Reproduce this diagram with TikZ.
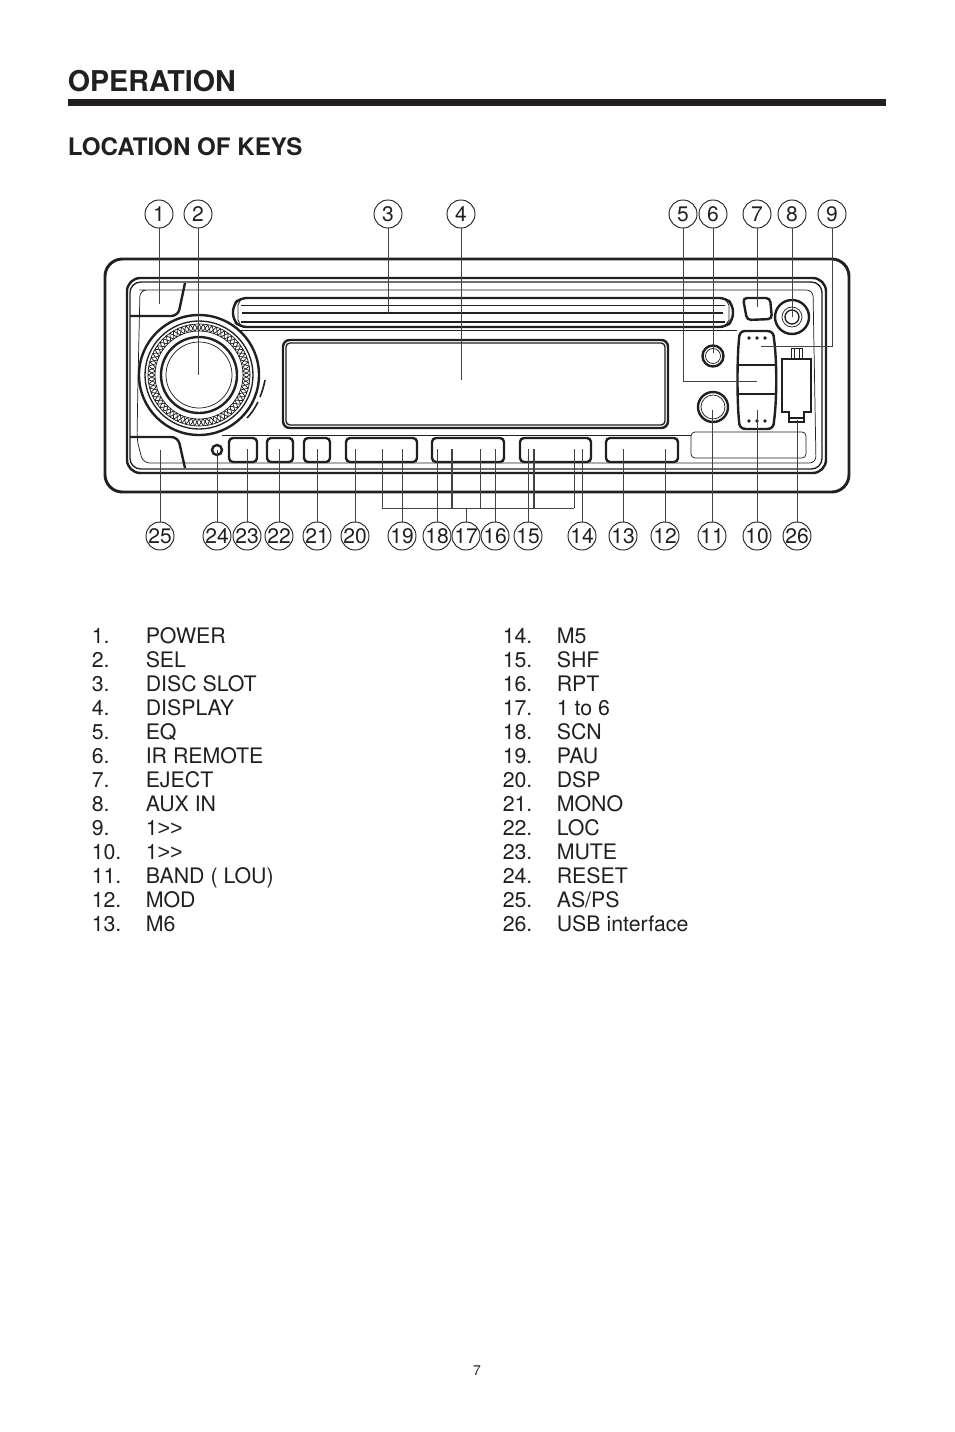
\documentclass[tikz,border=0pt]{standalone}
\usepackage{fontspec}
\setmainfont{TeX Gyre Heros}
\newfontfamily\gtfont{Liberation Sans}
\usepackage{xcolor}
\definecolor{inkblack}{HTML}{231F20}
\usetikzlibrary{arrows.meta}
\tikzset{
        callout/.style={draw=inkblack,circle,line width=0.7pt,minimum size=21pt,inner sep=0pt,font=\fontsize{15.8}{16}\selectfont,text=inkblack},
        leader/.style={draw=inkblack!85,line width=0.7pt},
        heavy/.style={draw=inkblack,line width=1.8pt},
        medium/.style={draw=inkblack,line width=1pt},
        light/.style={draw=inkblack,line width=0.55pt},
        keybox/.style={heavy,rounded corners=3pt},
        listtext/.style={anchor=base west,inner sep=0pt,font=\fontsize{16}{18}\selectfont,text=inkblack},
}
\begin{document}
\begin{tikzpicture}[x=0.75pt,y=-0.75pt]
        \useasboundingbox (0,0) rectangle (954,1432);
        \node[anchor=base west,inner sep=0pt,font=\fontsize{21.5}{24}\selectfont\bfseries,text=inkblack] (optitle) at (67.5,91) {OPERATION};
        \fill[inkblack] (68,99) rectangle (886,106);
        \node[anchor=base west,inner sep=0pt,font=\fontsize{18.1}{20}\selectfont\bfseries,text=inkblack] (loctitle) at (67.5,155) {LOCATION OF KEYS};

        \draw[heavy,line width=2.2pt,rounded corners=13pt] (105,259) rectangle (849,492);
        \draw[heavy,rounded corners=10pt] (127,278) rectangle (826,473);
        \draw[medium,rounded corners=8pt] (130,282) rectangle (822,469);
        \draw[light,rounded corners=5pt] (146,290) -- (813,290) -- (816,463) -- (143,463) -- (137,440) -- (138,380) -- (140,290) -- cycle;

        \draw[heavy,rounded corners=5pt] (130,316) -- (178,316) -- (185,283);
        \draw[heavy,rounded corners=5pt] (130,437) -- (178,437) -- (185,468);
        \draw[light] (240,330) -- (737,330);
        \draw[light] (222,435) -- (691,435);

        \draw[heavy,rounded corners=5pt] (240,298) -- (726,298) -- (733,305) -- (733,320) -- (726,327) -- (240,327) -- (233,320) -- (233,305) -- cycle;
        \draw[light] (241,305) -- (725,305);
        \draw[heavy] (242,313) -- (723,313);
        \draw[medium] (241,322) -- (725,322);
        \draw[light] (241,299) -- (238,305) -- (238,320) -- (241,326);
        \draw[light] (725,299) -- (729,305) -- (729,320) -- (725,326);

        \draw[heavy,rounded corners=5pt] (283,340) rectangle (668,428);
        \draw[medium,rounded corners=3pt] (286,343) rectangle (665,425);

        \filldraw[heavy,fill=white] (199,375) circle (60);
        \draw[medium] (199,375) circle (54);
        \draw[light] (199,375) circle (51);
        \draw[light] (199,375) circle (44);
        \foreach \a in {0,5,...,355} {
                \draw[light] (\a:51) ++(199,375) -- ++({44*cos(\a+5)-51*cos(\a)},{44*sin(\a+5)-51*sin(\a)});
                \draw[light] (\a:44) ++(199,375) -- ++({51*cos(\a+5)-44*cos(\a)},{51*sin(\a+5)-44*sin(\a)});
        }
        \draw[heavy] (199,375) circle (38);
        \draw[light] (199,375) circle (33);
        \draw[heavy,line width=1.2pt] (265,380) .. controls (264,386) and (262,392) .. (260,397);
        \draw[heavy,line width=1.2pt] (258,402) .. controls (255,408) and (251,414) .. (247,418);

        \draw[heavy] (217,450) circle (5);
        \draw[keybox] (229,438) rectangle (257,462);
        \draw[keybox] (267,438) rectangle (293,462);
        \draw[keybox] (304,438) rectangle (330,462);
        \draw[keybox] (346,438) rectangle (417,462);
        \draw[keybox] (432,438) rectangle (504,462);
        \draw[keybox] (520,438) rectangle (591,462);
        \draw[keybox] (606,438) rectangle (678,462);
        \draw[light,rounded corners=3pt] (691,432) rectangle (806,458);

        \draw[heavy,rounded corners=3pt] (743,298) -- (770,298) -- (772,319) -- (747,320) -- cycle;
        \draw[heavy] (792,317) circle (17);
        \draw[light] (792,317) circle (10);
        \draw[medium] (792,317) circle (7);
        \draw[heavy] (713,356) circle (10.5);
        \draw[light] (713,356) circle (7.5);
        \draw[heavy] (713,407) circle (15);
        \draw[light] (713,407) circle (12);

        \draw[heavy] (745,331) -- (767,331) .. controls (772,331) and (774,334) .. (774,339) .. controls (777,360) and (777,400) .. (774,421) .. controls (774,426) and (772,429) .. (767,429) -- (746,429) .. controls (741,429) and (739,426) .. (739,421) .. controls (737,400) and (737,360) .. (739,339) .. controls (739,334) and (741,331) .. (745,331) -- cycle;
        \draw[medium] (739,365) -- (776,365);
        \draw[medium] (739,394) -- (776,394);
        \foreach \x in {749,757,765} {
                \fill[inkblack] (\x,338) circle (1.8);
                \fill[inkblack] (\x,421) circle (1.8);
        }

        \draw[heavy] (782,359) -- (811,359) -- (811,412) -- (804,412) -- (804,422) -- (789,422) -- (789,412) -- (782,412) -- cycle;
        \draw[medium] (789,418) -- (804,418);
        \draw[light] (791,359) -- (791,348) -- (802,348) -- (802,359);
        \draw[light] (794,348) -- (794,359);
        \draw[light] (799,348) -- (799,359);

        \foreach \n/\x in {1/159,2/198,3/388,4/461,5/683,6/713,7/757,8/792,9/832}
                \node[callout] (c\n) at (\x,214) {\n};
        \foreach \n/\x in {25/160,24/217,23/247,22/279,21/317,20/355,19/402,18/437,17/466,16/495,15/528,14/582,13/623,12/665,11/712,10/757,26/797}
                \node[callout] (c\n) at (\x,536) {\n};

        \foreach \n/\x/\y in {1/159/304,2/198/375,3/388/313,4/461/380,6/713/353,7/757/307,8/792/317,10/757/410,11/712/410,12/665/449,13/623/449,14/582/449,15/528/449,16/495/449,18/437/449,19/402/449,20/355/449,21/317/449,22/279/449,23/247/449,24/217/450,25/160/450,26/797/420} {
                \coordinate (e\n) at (\x,\y);
                \draw[leader] (c\n) -- (e\n);
        }
        \coordinate (e5) at (757,381);
        \coordinate (e9) at (761,346);
        \draw[leader] (c5) |- (e5);
        \draw[leader] (c9) |- (e9);

        \coordinate (b17) at (466,508);
        \draw[leader] (c17) -- (b17);
        \foreach \k/\x/\w in {a/382/0.7,b/452/1.3,c/480/0.7,d/534/1.3,e/574/0.7} {
                \coordinate (t\k) at (\x,449);
                \coordinate (u\k) at (\x,508);
                \draw[leader,line width=\w pt] (t\k) -- (u\k);
        }
        \draw[leader] (ua) -- (ue);

        \foreach \t [count=\i from 0] in {POWER,SEL,DISC SLOT,DISPLAY,EQ,IR REMOTE,EJECT,AUX IN,1{\gtfont >>},1{\gtfont >>},BAND ( LOU),MOD,M6} {
                \pgfmathtruncatemacro{\m}{\i+1}
                \node[listtext] (numa\i) at (91.5,{643+24.05*\i}) {\m.};
                \node[listtext] (keya\i) at (145.5,{643+24.05*\i}) {\t};
        }
        \foreach \t [count=\i from 0] in {M5,SHF,RPT,1 to 6,SCN,PAU,DSP,MONO,LOC,MUTE,RESET,AS/PS,USB interface} {
                \pgfmathtruncatemacro{\m}{\i+14}
                \node[listtext] (numb\i) at (502.5,{643+24.05*\i}) {\m.};
                \node[listtext] (keyb\i) at (556.5,{643+24.05*\i}) {\t};
        }
        \node[anchor=base,inner sep=0pt,font=\fontsize{10.5}{12}\selectfont,text=inkblack] (pagenum) at (477,1375) {7};
\end{tikzpicture}
\end{document}
